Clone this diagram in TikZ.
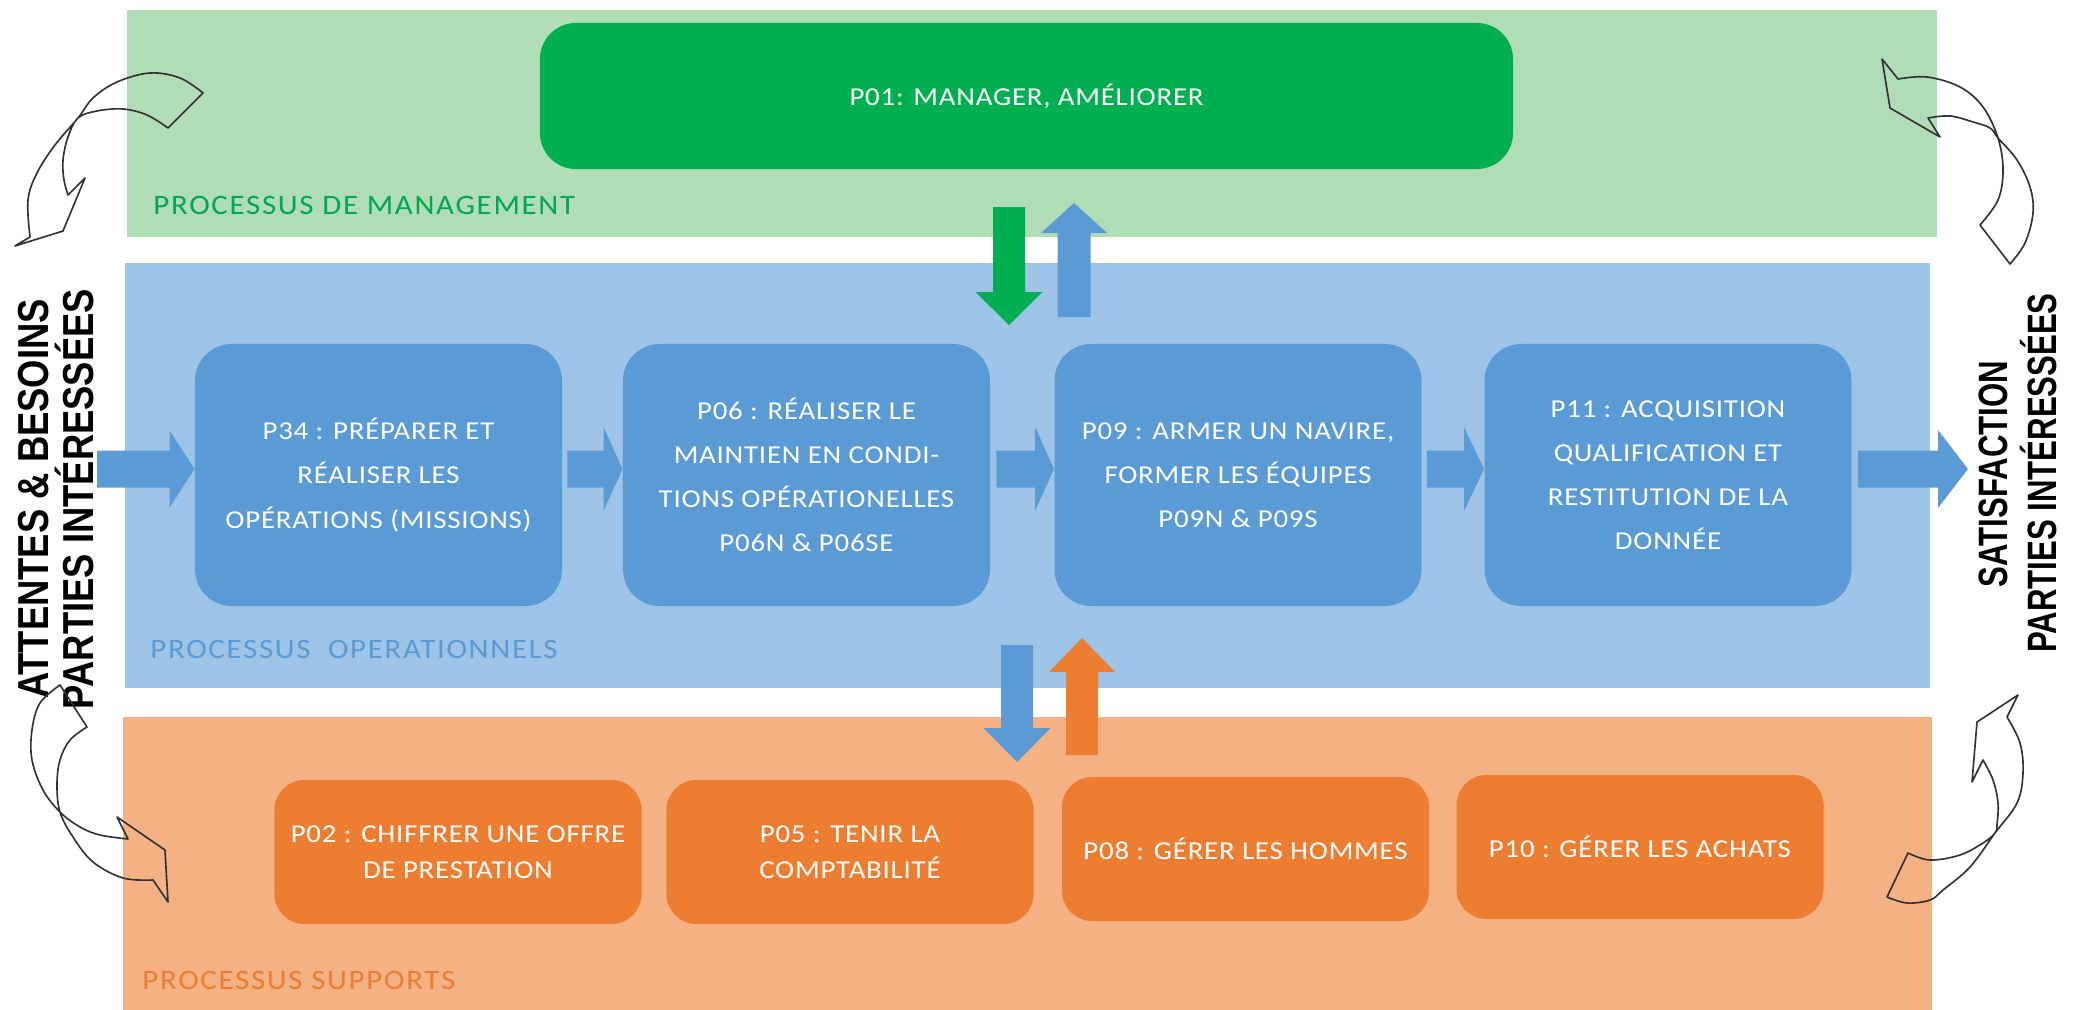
\documentclass[tikz,border=0pt]{standalone}
\usepackage{fontspec}
\setmainfont{Carlito}
\newfontfamily\boxfont{Carlito}[FakeStretch=1.12,LetterSpace=3]
\newfontfamily\labfont{Carlito}[FakeStretch=1.1,LetterSpace=6]
\newfontfamily\sidefont{Liberation Sans}[FakeStretch=0.84]
\newfontfamily\sidefontr{Liberation Sans}[FakeStretch=0.76]
\usetikzlibrary{calc}
\definecolor{gband}{RGB}{176,220,182}
\definecolor{gbox}{RGB}{0,176,80}
\definecolor{gtext}{RGB}{0,168,80}
\definecolor{bband}{RGB}{157,195,230}
\definecolor{bbox}{RGB}{91,155,213}
\definecolor{oband}{RGB}{244,177,131}
\definecolor{obox}{RGB}{237,125,49}
\definecolor{curv}{RGB}{50,50,50}
% horizontal block arrow: start, tip, head length, head half height, colour
\newcommand\blockR[5]{\fill[#5] ($(#1)+(0,-18.5)$) -- ($(#2)+(-#3,-18.5)$) -- ($(#2)+(-#3,-#4)$) -- (#2) -- ($(#2)+(-#3,#4)$) -- ($(#2)+(-#3,18.5)$) -- ($(#1)+(0,18.5)$) -- cycle;}
% vertical down arrow: start(top), tip, head length, shaft half, head half, colour
\newcommand\blockD[6]{\fill[#6] ($(#1)+(-#4,0)$) -- ($(#2)+(-#4,-#3)$) -- ($(#2)+(-#5,-#3)$) -- (#2) -- ($(#2)+(#5,-#3)$) -- ($(#2)+(#4,-#3)$) -- ($(#1)+(#4,0)$) -- cycle;}
% vertical up arrow
\newcommand\blockU[6]{\fill[#6] ($(#1)+(-#4,0)$) -- ($(#2)+(-#4,#3)$) -- ($(#2)+(-#5,#3)$) -- (#2) -- ($(#2)+(#5,#3)$) -- ($(#2)+(#4,#3)$) -- ($(#1)+(#4,0)$) -- cycle;}
\begin{document}
\begin{tikzpicture}[x=0.015cm,y=-0.015cm,
  proc/.style={rounded corners=0.55cm, minimum width=5.505cm, minimum height=3.93cm,
    fill=bbox, text=white, align=center, inner sep=0pt,
    font={\boxfont\fontsize{11pt}{18.8pt}\selectfont}},
  mgmtbox/.style={rounded corners=0.54cm, minimum width=14.595cm, minimum height=2.19cm,
    fill=gbox, text=white, align=center, inner sep=0pt,
    font={\boxfont\fontsize{11pt}{18.8pt}\selectfont}},
  supbox/.style={rounded corners=0.45cm, minimum width=5.505cm, minimum height=2.16cm,
    fill=obox, text=white, align=center, inner sep=0pt,
    font={\boxfont\fontsize{11pt}{15.5pt}\selectfont}},
  lab/.style={anchor=base west, inner sep=0pt, font={\labfont\fontsize{12pt}{14pt}\selectfont}},
  sidel/.style={rotate=90, anchor=base, inner sep=0pt, text=black,
    font={\sidefont\bfseries\fontsize{18.5pt}{20pt}\selectfont}},
  sider/.style={rotate=90, anchor=base, inner sep=0pt, text=black,
    font={\sidefontr\bfseries\fontsize{17.5pt}{19pt}\selectfont}},
  curved/.style={draw=curv, line width=0.7pt, line join=round}
]
\useasboundingbox (0,0) rectangle (2081,1010);

% bands
\fill[gband] (127,10) rectangle (1937,237);
\fill[bband] (125,263) rectangle (1930,688);
\fill[oband] (123,717) rectangle (1932,1010);

% management
\node[mgmtbox] (p01) at (1026.5,96) {P01: MANAGER, AMÉLIORER};
\node[lab, text=gtext] (lm) at (153,214) {PROCESSUS DE MANAGEMENT};

% operational
\node[proc] (p34) at (378.5,475) {P34 : PRÉPARER ET\\RÉALISER LES\\OPÉRATIONS (MISSIONS)};
\node[proc] (p06) at (806.5,475) {P06 : RÉALISER LE\\MAINTIEN EN CONDI-\\TIONS OPÉRATIONELLES\\P06N \& P06SE};
\node[proc] (p09) at (1238,475) {P09 : ARMER UN NAVIRE,\\FORMER LES ÉQUIPES\\P09N \& P09S};
\node[proc] (p11) at (1668,475) {P11 : ACQUISITION\\QUALIFICATION ET\\RESTITUTION DE LA\\DONNÉE};
\node[lab, text=bbox] (lo) at (150,658) {PROCESSUS\ \ OPERATIONNELS};

% supports
\node[supbox] (p02) at (458,852) {P02 : CHIFFRER UNE OFFRE\\DE PRESTATION};
\node[supbox] (p05) at (850,852) {P05 : TENIR LA\\COMPTABILITÉ};
\node[supbox] (p08) at (1245.5,849) {P08 : GÉRER LES HOMMES};
\node[supbox] (p10) at (1640,847) {P10 : GÉRER LES ACHATS};
\node[lab, text=obox] (ls) at (142,989) {PROCESSUS SUPPORTS};

% side texts
\node[sidel] (l1) at (48,499) {ATTENTES \& BESOINS};
\node[sidel] (l2) at (93,499) {PARTIES INTÉRESSÉES};
\node[sider] (r1) at (2007,474) {SATISFACTION};
\node[sider] (r2) at (2056,473) {PARTIES INTÉRESSÉES};

% horizontal flow arrows
\coordinate (i0) at (97,469);
\coordinate (i1) at ($(p34.west)+(0,-6)$);
\coordinate (a0) at ($(p34.east)+(5,-6)$);
\coordinate (a1) at ($(p06.west)+(0,-6)$);
\coordinate (b0) at ($(p06.east)+(6,-6)$);
\coordinate (b1) at ($(p09.west)+(0,-6)$);
\coordinate (c0) at ($(p09.east)+(5,-6)$);
\coordinate (c1) at ($(p11.west)+(0,-6)$);
\coordinate (o0) at ($(p11.east)+(6,-6)$);
\coordinate (o1) at (1968,469);
\blockR{i0}{i1}{25}{38.5}{bbox}
\blockR{a0}{a1}{19}{42}{bbox}
\blockR{b0}{b1}{19}{42}{bbox}
\blockR{c0}{c1}{20}{42}{bbox}
\blockR{o0}{o1}{30}{39}{bbox}

% vertical exchange arrows
\coordinate (gd0) at (1009,207);
\coordinate (gd1) at (1009,325);
\coordinate (bu0) at (1074,317);
\coordinate (bu1) at (1074,203);
\coordinate (bd0) at (1017,645);
\coordinate (bd1) at (1017,762);
\coordinate (ou0) at (1082,755);
\coordinate (ou1) at (1082,638);
\blockD{gd0}{gd1}{33}{16}{33.5}{gbox}
\blockU{bu0}{bu1}{30}{16.5}{33}{bbox}
\blockD{bd0}{bd1}{34}{16}{33.5}{bbox}
\blockU{ou0}{ou1}{34}{16}{33}{obox}

% curved outline arrows
% top left
\draw[curved] (203,93) -- (168,128)
  -- plot[smooth, tension=0.6] coordinates {(168,128) (147,115) (123,109) (97,111) (78,118) (68,137) (63,160) (64,180) (68,195)}
  -- (85,178) -- (63,231) -- (15,246) -- (30,237)
  -- plot[smooth, tension=0.6] coordinates {(30,237) (28,200) (37,173) (55,145) (78,118) (93,98) (117,82) (150,73) (180,78) (203,93)}
  -- cycle;
% top right
\draw[curved] (1882,59) -- (1898,79)
  -- plot[smooth, tension=0.6] coordinates {(1898,79) (1927,77) (1960,87) (1983,107) (1998,138) (2003,170) (1998,200) (1980,225)}
  -- (2010,264)
  -- plot[smooth, tension=0.6] coordinates {(2010,264) (2025,243) (2033,213) (2030,187) (2017,160) (1998,138) (1990,128) (1973,122) (1950,116) (1928,118)}
  -- (1940,137) -- (1890,108) -- cycle;
% bottom left
\draw[curved] (60,685) -- (87,727)
  -- plot[smooth, tension=0.6] coordinates {(87,727) (70,740) (60,760) (57,785) (60,812) (73,837) (93,862) (123,878) (153,880)}
  -- (168,902) -- (165,850) -- (117,817) -- (128,839)
  -- plot[smooth, tension=0.6] coordinates {(128,839) (100,835) (80,827) (60,812) (43,790) (32,760) (32,730) (40,703) (60,685)}
  -- cycle;
% bottom right
\draw[curved] (2018,695) -- (2007,717)
  -- plot[smooth, tension=0.6] coordinates {(2007,717) (2020,743) (2023,773) (2017,803) (1995,833) (1970,867) (1943,890) (1930,900) (1907,903) (1887,897)}
  -- (1908,853)
  -- plot[smooth, tension=0.6] coordinates {(1908,853) (1930,860) (1960,855) (1983,843) (1995,833) (1997,825) (1998,803) (1993,780) (1983,760)}
  -- (1972,782) -- (1977,722) -- cycle;
\end{tikzpicture}
\end{document}
